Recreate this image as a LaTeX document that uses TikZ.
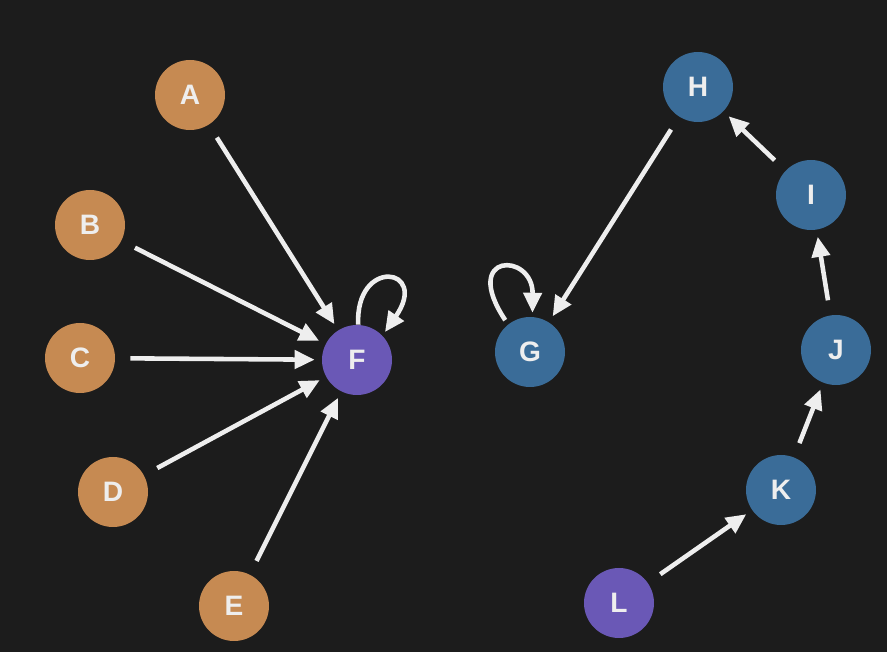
\documentclass[tikz,border=0pt]{standalone}
\usepackage{fontspec}
\setmainfont{Liberation Sans}
\usetikzlibrary{arrows.meta}
\definecolor{bgdark}{HTML}{1C1C1C}
\definecolor{leaforange}{HTML}{C68A52}
\definecolor{rootpurple}{HTML}{6A58B6}
\definecolor{chainblue}{HTML}{3A6C98}
\definecolor{edgewhite}{HTML}{EEEEEE}
\tikzset{
	vert/.style={circle, minimum size=1.4cm, inner sep=0pt, text=edgewhite, font=\fontsize{16}{18}\selectfont\bfseries},
	leaf/.style={vert, fill=leaforange},
	root/.style={vert, fill=rootpurple},
	chain/.style={vert, fill=chainblue},
	edge/.style={draw=edgewhite, line width=2.6pt, -{Triangle[length=0.4cm,width=0.36cm]}, shorten <=0.3cm, shorten >=0.14cm},
	loopedge/.style={edge, shorten <=0pt, shorten >=0pt}
}
\begin{document}
\begin{tikzpicture}
		%%%%% START %%%%%
		
		\fill[bgdark] (0, 0) rectangle (17.74, 13.04);
		\useasboundingbox (0, 0) rectangle (17.74, 13.04);
		
		% left tree
		\node[leaf] (A) at (3.8, 11.14) {A};
		\node[leaf] (B) at (1.8, 8.54) {B};
		\node[leaf] (C) at (1.6, 5.88) {C};
		\node[leaf] (D) at (2.26, 3.2) {D};
		\node[leaf] (E) at (4.68, 0.92) {E};
		\node[root] (F) at (7.14, 5.84) {F};
		
		\draw[edge] (A) -- (F);
		\draw[edge] (B) -- (F);
		\draw[edge] (C) -- (F);
		\draw[edge] (D) -- (F);
		\draw[edge] (E) -- (F);
		\draw[loopedge] (F.88) .. controls (7.1, 7.9) and (8.6, 7.7) .. ([shift={(0.06,0.06)}]F.45);
		
		% right chain
		\node[chain] (G) at (10.6, 6.0) {G};
		\node[chain] (H) at (13.96, 11.3) {H};
		\node[chain] (I) at (16.22, 9.14) {I};
		\node[chain] (J) at (16.72, 6.04) {J};
		\node[chain] (K) at (15.62, 3.24) {K};
		\node[root] (L) at (12.38, 0.98) {L};
		
		\draw[edge] (L) -- (K);
		\draw[edge] (K) -- (J);
		\draw[edge] (J) -- (I);
		\draw[edge] (I) -- (H);
		\draw[edge] (H) -- (G);
		\draw[loopedge] ([shift={(-0.06,0.08)}]G.128) .. controls (9.2, 8.0) and (10.66, 8.0) .. ([yshift=0.08cm]G.86);
		
		%%%%% END %%%%%
\end{tikzpicture}
\end{document}
